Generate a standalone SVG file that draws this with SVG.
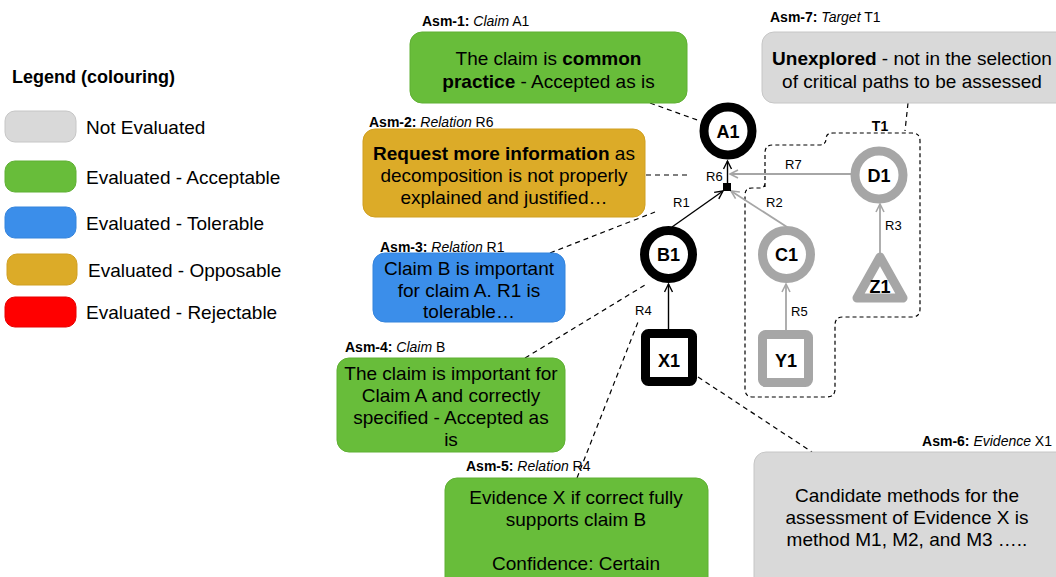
<svg xmlns="http://www.w3.org/2000/svg" width="1056" height="577" viewBox="0 0 1056 577">
<style>
text{font-family:"Liberation Sans",Arial,sans-serif;fill:#000}
.lg{font-size:19px}
.bx{font-size:19px;text-anchor:middle}
.asm{font-size:14px}
.b{font-weight:bold}
.i{font-style:italic}
.nl{font-size:18px;font-weight:bold;text-anchor:middle}
.rl{font-size:13px}
.green{fill:#68bd3a;stroke:#5fb033;stroke-width:1}
.grey{fill:#d9d9d9;stroke:#c6c6c6;stroke-width:1}
.blue{fill:#3b8eea;stroke:#3584dc;stroke-width:1}
.gold{fill:#dcab28;stroke:#d09f20;stroke-width:1}
.red{fill:#ff0000;stroke:#e60000;stroke-width:1}
.nb{fill:#fff;stroke:#000;stroke-width:9}
.ng{fill:#fff;stroke:#a6a6a6;stroke-width:9}
.eb{stroke:#000;stroke-width:1.4;fill:none}
.eg{stroke:#a6a6a6;stroke-width:1.8;fill:none}
.dash{stroke:#000;stroke-width:1.2;stroke-dasharray:5,4;fill:none}
</style>
<defs>
<marker id="ab" markerUnits="userSpaceOnUse" markerWidth="12" markerHeight="12" refX="9" refY="5" orient="auto"><path d="M1,1 L9,5 L1,9" fill="none" stroke="#000" stroke-width="1.4"/></marker>
<marker id="ag" markerUnits="userSpaceOnUse" markerWidth="12" markerHeight="12" refX="9" refY="5" orient="auto"><path d="M1,1 L9,5 L1,9" fill="none" stroke="#a6a6a6" stroke-width="1.6"/></marker>
</defs>

<g id="legend">
<text x="12" y="83" class="b" style="font-size:18px">Legend (colouring)</text>
<rect x="5" y="111" width="71" height="31" rx="10" class="grey"/>
<text x="86" y="134" class="lg">Not Evaluated</text>
<rect x="5" y="161" width="71" height="31" rx="10" class="green"/>
<text x="86" y="184" class="lg">Evaluated - Acceptable</text>
<rect x="5" y="207" width="71" height="31" rx="10" class="blue"/>
<text x="86" y="230" class="lg">Evaluated - Tolerable</text>
<rect x="7" y="254" width="70" height="31" rx="10" class="gold"/>
<text x="88" y="277" class="lg">Evaluated - Opposable</text>
<rect x="5" y="297" width="71" height="30" rx="10" class="red"/>
<text x="86" y="319" class="lg">Evaluated - Rejectable</text>
</g>

<g id="target-T1">
<path class="dash" style="stroke-dasharray:4,3" d="M765,187 L765,153 Q765,145 773,145 L819,145 Q826,145 826,139 Q826,133 833,133 L912,133 Q920,133 920,141 L920,309 Q920,317 912,317 L843,317 Q835,317 835,325 L835,389 Q835,397 827,397 L753,397 Q745,397 745,389 L745,195 Q745,188 752,188 L760,188 Q765,188 765,183 Z"/>
<text x="880" y="131" class="b" style="font-size:14px;text-anchor:middle">T1</text>
</g>

<g id="connectors">
<line x1="727.5" y1="183" x2="727.5" y2="161" class="eb" marker-end="url(#ab)"/>
<line x1="672" y1="227" x2="723" y2="191" class="eb" marker-end="url(#ab)"/>
<line x1="668.5" y1="329" x2="668.5" y2="284" class="eb" marker-end="url(#ab)"/>
<line x1="787" y1="227" x2="731" y2="191" class="eg" marker-end="url(#ag)"/>
<line x1="855" y1="174" x2="730" y2="174" class="eg" marker-end="url(#ag)"/>
<line x1="786" y1="330" x2="786" y2="284" class="eg" marker-end="url(#ag)"/>
<line x1="880" y1="253" x2="880" y2="204" class="eg" marker-end="url(#ag)"/>
<text x="706" y="181" class="rl">R6</text>
<text x="785" y="169" class="rl">R7</text>
<text x="673" y="207" class="rl">R1</text>
<text x="766" y="207" class="rl">R2</text>
<text x="885" y="230" class="rl">R3</text>
<text x="635" y="315" class="rl">R4</text>
<text x="791" y="316" class="rl">R5</text>
<line x1="650" y1="103" x2="700" y2="121" class="dash"/>
<line x1="646" y1="175" x2="688" y2="175" class="dash"/>
<line x1="550" y1="253" x2="655" y2="212" class="dash"/>
<line x1="525" y1="358" x2="645" y2="285" class="dash"/>
<line x1="577" y1="478" x2="638" y2="322" class="dash"/>
<line x1="698" y1="377" x2="812" y2="452" class="dash"/>
<line x1="908" y1="103" x2="905" y2="131" class="dash"/>
</g>

<g id="junction"><rect x="723" y="183" width="8" height="8" fill="#000"/></g>

<g id="node-A1"><circle cx="728" cy="131" r="24" class="nb"/><text x="728" y="138" class="nl">A1</text></g>
<g id="node-B1"><circle cx="668.5" cy="254.5" r="24" class="nb"/><text x="668.5" y="261" class="nl">B1</text></g>
<g id="node-X1"><rect x="645.5" y="333.5" width="47" height="48" rx="3" class="nb"/><text x="669" y="367" class="nl">X1</text></g>
<g id="node-C1"><circle cx="786.5" cy="254.5" r="24" class="ng"/><text x="786.5" y="261" class="nl">C1</text></g>
<g id="node-D1"><circle cx="879" cy="175" r="24" class="ng"/><text x="879" y="182" class="nl">D1</text></g>
<g id="node-Y1"><rect x="762.5" y="334.5" width="46" height="48" rx="3" class="ng"/><text x="786" y="367" class="nl">Y1</text></g>
<g id="node-Z1"><path d="M880,257 L903,298 L857,298 Z" class="ng" stroke-linejoin="round"/><text x="880" y="293" class="nl">Z1</text></g>

<g id="asm-1">
<text x="422" y="26" class="asm"><tspan class="b">Asm-1:</tspan> <tspan class="i">Claim</tspan> A1</text>
<rect x="410" y="32" width="277" height="71" rx="12" class="green"/>
<text x="548.5" y="65" class="bx">The claim is <tspan class="b">common</tspan></text>
<text x="548.5" y="88" class="bx"><tspan class="b">practice</tspan> - Accepted as is</text>
</g>

<g id="asm-2">
<text x="369" y="127" class="asm"><tspan class="b">Asm-2:</tspan> <tspan class="i">Relation</tspan> R6</text>
<rect x="363" y="129" width="282" height="88" rx="12" class="gold"/>
<text x="504" y="160" class="bx"><tspan class="b">Request more information</tspan> as</text>
<text x="504" y="182" class="bx">decomposition is not properly</text>
<text x="504" y="204" class="bx">explained and justified…</text>
</g>

<g id="asm-3">
<text x="380" y="252" class="asm"><tspan class="b">Asm-3:</tspan> <tspan class="i">Relation</tspan> R1</text>
<rect x="373" y="253" width="192" height="69" rx="12" class="blue"/>
<text x="469" y="275" class="bx">Claim B is important</text>
<text x="469" y="297" class="bx">for claim A. R1 is</text>
<text x="469" y="318" class="bx">tolerable…</text>
</g>

<g id="asm-4">
<text x="345" y="352" class="asm"><tspan class="b">Asm-4:</tspan> <tspan class="i">Claim</tspan> B</text>
<rect x="337" y="358" width="228" height="94" rx="12" class="green"/>
<text x="451" y="380" class="bx">The claim is important for</text>
<text x="451" y="402" class="bx">Claim A and correctly</text>
<text x="451" y="424" class="bx">specified - Accepted as</text>
<text x="451" y="446" class="bx">is</text>
</g>

<g id="asm-5">
<text x="466" y="471" class="asm"><tspan class="b">Asm-5:</tspan> <tspan class="i">Relation</tspan> R4</text>
<rect x="445" y="478" width="263" height="112" rx="12" class="green"/>
<text x="576" y="504" class="bx">Evidence X if correct fully</text>
<text x="576" y="526" class="bx">supports claim B</text>
<text x="576" y="570" class="bx">Confidence: Certain</text>
</g>

<g id="asm-6">
<text x="1052" y="446" class="asm" text-anchor="end"><tspan class="b">Asm-6:</tspan> <tspan class="i">Evidence</tspan> X1</text>
<rect x="754" y="452" width="320" height="140" rx="12" class="grey"/>
<text x="907" y="502" class="bx">Candidate methods for the</text>
<text x="907" y="524" class="bx">assessment of Evidence X is</text>
<text x="907" y="546" class="bx">method M1, M2, and M3 …..</text>
</g>

<g id="asm-7">
<text x="770" y="22" class="asm"><tspan class="b">Asm-7:</tspan> <tspan class="i">Target</tspan> T1</text>
<rect x="762" y="32" width="310" height="71" rx="12" class="grey"/>
<text x="912" y="65" class="bx"><tspan class="b">Unexplored</tspan> - not in the selection</text>
<text x="912" y="88" class="bx">of critical paths to be assessed</text>
</g>
</svg>
